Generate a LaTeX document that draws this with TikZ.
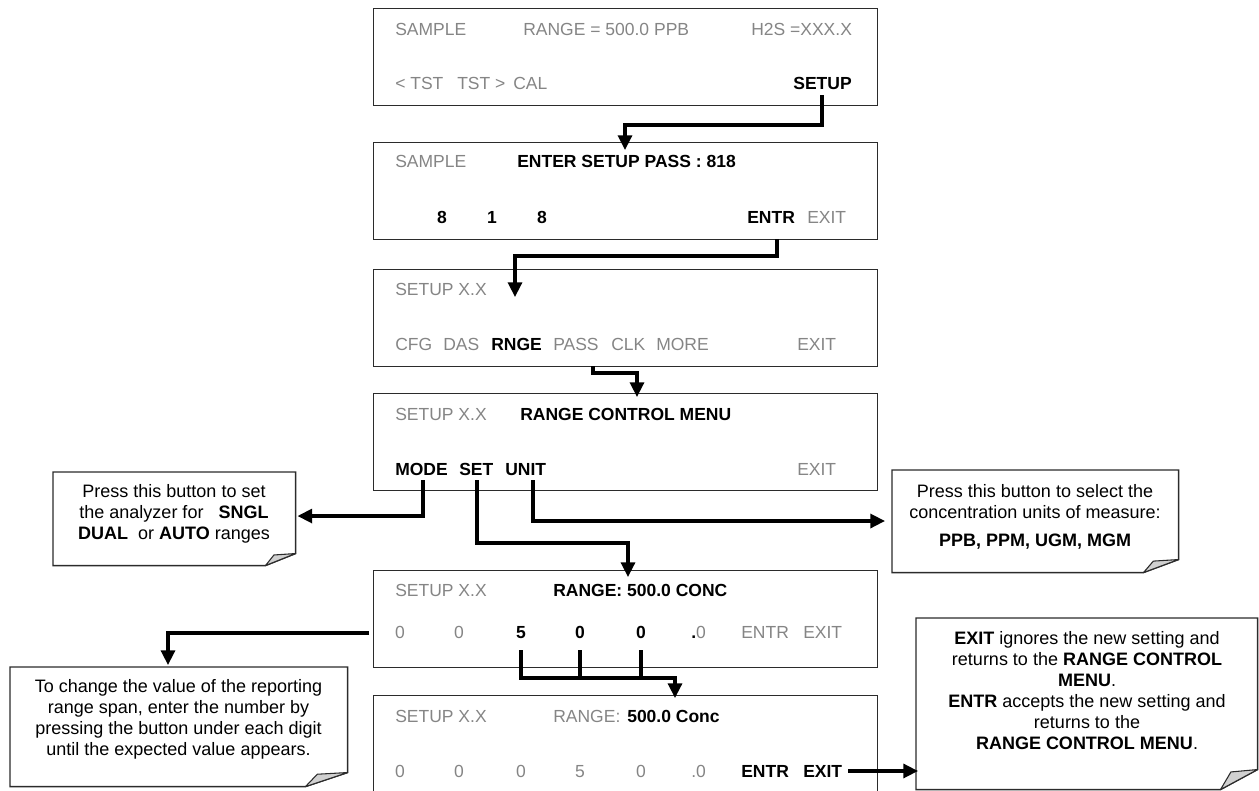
\documentclass[tikz,border=0pt]{standalone}
\usepackage{fontspec}
\setmainfont{Liberation Sans}
\usetikzlibrary{arrows.meta,calc}
\definecolor{txtgray}{HTML}{858585}
\definecolor{boxline}{HTML}{2B2B2B}
\definecolor{foldgray}{HTML}{D0D0D0}
\newcommand{\scrf}{\fontsize{13.125}{15.75}\selectfont}
\newcommand{\notef}{\fontsize{13.5}{15.75}\selectfont}
\newcommand{\foldnote}[3]{%
  \draw[noteline] (#1.north west) -- (#1.north east) -- ($(#1.south east)+(0,-#3)$) -- ($(#1.south east)+(-#2,0)$) -- (#1.south west) -- cycle;
  \filldraw[foldfill] ($(#1.south east)+(-#2,0)$) -- ($(#1.south east)+({-0.72*#2},{-0.88*#3})$) -- ($(#1.south east)+(0,-#3)$) -- cycle;}
\begin{document}
\begin{tikzpicture}[x=0.75pt,y=-0.75pt,
  screen/.style={draw=boxline,line width=1.1pt,inner sep=0pt,anchor=north west,minimum width=504*0.75pt,minimum height=97*0.75pt},
  notearea/.style={inner sep=0pt,anchor=north west},
  noteline/.style={draw=boxline,line width=1.1pt,fill=white},
  foldfill/.style={draw=boxline,line width=0.8pt,fill=foldgray,line join=round},
  g/.style={anchor=base west,inner sep=0pt,font=\scrf,text=txtgray},
  k/.style={anchor=base west,inner sep=0pt,font=\scrf\bfseries,text=black},
  gd/.style={g,anchor=base},
  kd/.style={k,anchor=base},
  nt/.style={anchor=base,inner sep=0pt,font=\notef,text=black},
  conn/.style={line width=2.4pt,-{Triangle[length=11pt,width=10.5pt]}},
  seg/.style={line width=2.4pt},
]
\useasboundingbox (0,0) rectangle (1259,790);
\clip (0,0) rectangle (1259,790);

% screens
\node[screen] (s1) at (373,8) {};
\node[screen] (s2) at (373,142) {};
\node[screen] (s3) at (373,269) {};
\node[screen] (s4) at (373,393) {};
\node[screen] (s5) at (373,570) {};
\node[screen,minimum height=130*0.75pt] (s6) at (373,695) {};

% screen 1
\node[g] (t1a) at (395,35) {SAMPLE};
\node[g] (t1b) at (523,35) {RANGE = 500.0 PPB};
\node[g] (t1c) at (751,35) {H2S =XXX.X};
\node[g] (t1d) at (395,89) {< TST};
\node[g] (t1e) at (457,89) {TST >};
\node[g] (t1f) at (513,89) {CAL};
\node[k,anchor=base east] (k1setup) at (852,89) {SETUP};

% screen 2
\node[g] (t2a) at (395,167) {SAMPLE};
\node[k] (t2b) at (517,167) {ENTER SETUP PASS : 818};
\node[kd] (t2c) at (442,223) {8};
\node[kd] (t2d) at (492,223) {1};
\node[kd] (t2e) at (542,223) {8};
\node[k] (k2entr) at (747,223) {ENTR};
\node[g] (t2f) at (807,223) {EXIT};

% screen 3
\node[g] (t3a) at (395,295) {SETUP X.X};
\node[g] (t3b) at (395,350) {CFG};
\node[g] (t3c) at (443,350) {DAS};
\node[k] (k3rnge) at (491,350) {RNGE};
\node[g] (t3d) at (553,350) {PASS};
\node[g] (t3e) at (611,350) {CLK};
\node[g] (t3f) at (656,350) {MORE};
\node[g] (t3g) at (797,350) {EXIT};

% screen 4
\node[g] (t4a) at (395,420) {SETUP X.X};
\node[k] (t4b) at (520,420) {RANGE CONTROL MENU};
\node[k] (k4mode) at (395,475) {MODE};
\node[k] (k4set) at (459,475) {SET};
\node[k] (k4unit) at (505,475) {UNIT};
\node[g] (t4c) at (797,475) {EXIT};

% screen 5
\node[g] (t5a) at (395,596) {SETUP X.X};
\node[k] (t5b) at (553,596) {RANGE: 500.0 CONC};
\node[gd] (t5c) at (400,638) {0};
\node[gd] (t5d) at (459,638) {0};
\node[kd] (d5a) at (521,638) {5};
\node[kd] (d5b) at (580,638) {0};
\node[kd] (d5c) at (641,638) {0};
\node[g] (t5e) at (691,638) {\textcolor{black}{\bfseries .}0};
\node[g] (t5f) at (741,638) {ENTR};
\node[g] (t5g) at (803,638) {EXIT};

% screen 6
\node[g] (t6a) at (395,722) {SETUP X.X};
\node[g] (t6b) at (553,722) {RANGE:};
\node[k] (t6c) at (627,722) {500.0 Conc};
\node[gd] (t6d) at (400,777) {0};
\node[gd] (t6e) at (459,777) {0};
\node[gd] (t6f) at (521,777) {0};
\node[gd] (t6g) at (580,777) {5};
\node[gd] (t6h) at (641,777) {0};
\node[g] (t6i) at (691,777) {.0};
\node[k] (t6j) at (741,777) {ENTR};
\node[k] (k6exit) at (803,777) {EXIT};

% notes
\node[notearea,minimum width=242*0.75pt,minimum height=93*0.75pt] (n1) at (53,472) {};
\node[notearea,minimum width=286*0.75pt,minimum height=102*0.75pt] (n2) at (892,470) {};
\node[notearea,minimum width=337*0.75pt,minimum height=119*0.75pt] (n3) at (10,667) {};
\node[notearea,minimum width=341*0.75pt,minimum height=171*0.75pt] (n4) at (916,618) {};
\foldnote{n1}{30}{12}
\foldnote{n2}{35}{13}
\foldnote{n3}{42}{14}
\foldnote{n4}{37}{20}

\node[nt] (n1a) at (174,497) {Press this button to set};
\node[nt] (n1b) at (174,518) {the analyzer for\ \ \ \textbf{SNGL}};
\node[nt] (n1c) at (174,539) {\textbf{DUAL}\ \ or \textbf{AUTO} ranges};

\node[nt] (n2a) at (1035,497) {Press this button to select the};
\node[nt] (n2b) at (1035,518) {concentration units of measure:};
\node[nt] (n2c) at (1035,546) {\textbf{PPB, PPM, UGM, MGM}};

\node[nt] (n3a) at (178.5,692) {To change the value of the reporting};
\node[nt] (n3b) at (178.5,713) {range span, enter the number by};
\node[nt] (n3c) at (178.5,734) {pressing the button under each digit};
\node[nt] (n3d) at (178.5,755) {until the expected value appears.};

\node[nt] (n4a) at (1087,644) {\textbf{EXIT} ignores the new setting and};
\node[nt] (n4b) at (1087,665) {returns to the \textbf{RANGE CONTROL}};
\node[nt] (n4c) at (1087,686) {\textbf{MENU}.};
\node[nt] (n4d) at (1087,707) {\textbf{ENTR} accepts the new setting and};
\node[nt] (n4e) at (1087,728) {returns to the};
\node[nt] (n4f) at (1087,749) {\textbf{RANGE CONTROL MENU}.};

% connectors
\coordinate (p1) at (822,95);
\coordinate (b1) at (625,125);
\draw[conn] (p1) |- (b1) -- ($(s2.north -| b1)+(0,8)$);

\coordinate (p2) at (777,239);
\coordinate (b2) at (515,256);
\draw[conn] (p2) |- (b2) -- ($(s3.north -| b2)+(0,28)$);

\coordinate (p3) at (593,366);
\coordinate (b3) at (637,373);
\draw[conn] (p3) |- (b3) -- ($(s4.north -| b3)+(0,4)$);

\coordinate (p4) at (423,480);
\coordinate (b4) at (423,516);
\draw[conn] (p4) -- (b4) -- ($(n1.east |- b4)+(2,0)$);

\coordinate (p5) at (477,480);
\coordinate (b5) at (628,543);
\draw[conn] (p5) |- (b5) -- ($(s5.north -| b5)+(0,7)$);

\coordinate (p6) at (533,480);
\coordinate (b6) at (533,521);
\draw[conn] (p6) -- (b6) -- ($(n2.west |- b6)+(-7,0)$);

\coordinate (b7) at (168,633);
\draw[conn] ($(s5.west |- b7)+(-4,0)$) -- (b7) -- ($(n3.north -| b7)+(0,-2)$);

\coordinate (b8) at (675,678);
\draw[conn] ($(d5a.base)+(0,12)$) |- (b8) -- ($(s6.north -| b8)+(0,3)$);
\draw[seg] ($(d5b.base)+(0,12)$) -- (d5b.base |- b8);
\draw[seg] ($(d5c.base)+(0,12)$) -- (d5c.base |- b8);

\draw[conn] ($(k6exit.east)+(6,0)$) -- ($(n4.west |- k6exit.east)+(2,0)$);
\end{tikzpicture}
\end{document}
